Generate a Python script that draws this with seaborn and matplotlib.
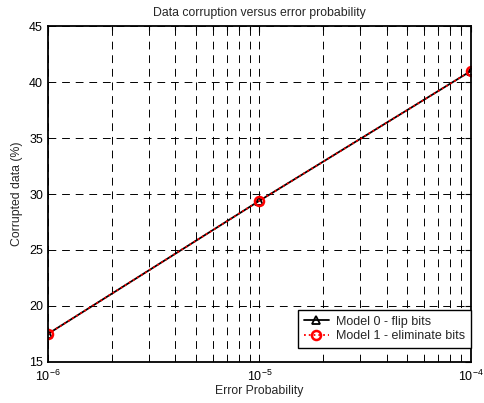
import numpy as np
import pandas as pd
import matplotlib
matplotlib.use("Agg")
import matplotlib.pyplot as plt
import seaborn as sns
from matplotlib.ticker import LogLocator, NullFormatter

error_prob = [1e-6, 1e-5, 1e-4]
model0 = [17.5, 29.4, 41.0]
model1 = [17.5, 29.4, 41.0]
labels = ["Model 0 - flip bits", "Model 1 - eliminate bits"]

sns.set_style("white")
plt.rcParams['font.family'] = ['Liberation Sans', 'DejaVu Sans']
plt.rcParams['font.size'] = 9
plt.rcParams['mathtext.fontset'] = 'custom'
plt.rcParams['mathtext.rm'] = 'Liberation Sans'
plt.rcParams['mathtext.it'] = 'Liberation Sans'
plt.rcParams['mathtext.bf'] = 'Liberation Sans'
plt.rcParams['mathtext.default'] = 'regular'

fig = plt.figure(figsize=(4.84, 4.03), dpi=100)
ax = fig.add_axes([0.099, 0.102, 0.874, 0.833])

df0 = pd.DataFrame({"x": error_prob, "y": model0})
df1 = pd.DataFrame({"x": error_prob, "y": model1})

sns.lineplot(data=df0, x="x", y="y", ax=ax, color="black", linewidth=1.3,
             marker="^", markersize=6, markerfacecolor="none",
             markeredgecolor="black", markeredgewidth=1.3, label=labels[0])
sns.lineplot(data=df1, x="x", y="y", ax=ax, color="red", linewidth=1.3,
             linestyle=":", marker="o", markersize=6.5, markerfacecolor="none",
             markeredgecolor="red", markeredgewidth=1.8, label=labels[1])

ax.set_xscale("log")
ax.set_xlim(1e-6, 1e-4)
ax.set_ylim(15, 45)
ax.set_yticks([15, 20, 25, 30, 35, 40, 45])
ax.xaxis.set_major_locator(LogLocator(base=10, numticks=10))
ax.xaxis.set_minor_locator(LogLocator(base=10, subs=np.arange(2, 10), numticks=20))
ax.xaxis.set_minor_formatter(NullFormatter())

ax.grid(True, which="both", axis="x", color="black", linestyle=(0, (8, 6)), linewidth=0.7)
ax.grid(True, which="major", axis="y", color="black", linestyle=(0, (8, 6)), linewidth=0.7)

ax.tick_params(which="both", direction="in", top=True, right=True, length=4, width=0.8,
               labelsize=9, colors="black")
ax.tick_params(which="minor", length=3)
ax.tick_params(axis="x", pad=5)
for s in ax.spines.values():
    s.set_color("black")
    s.set_linewidth(1.3)

ax.set_title("Data corruption versus error probability", fontsize=8.8, pad=7)
ax.set_xlabel("Error Probability", fontsize=8.8, labelpad=1)
ax.set_ylabel("Corrupted data (%)", fontsize=8.8, labelpad=4)

leg = ax.legend(loc="lower right", fontsize=9, frameon=True, fancybox=False,
                borderpad=0.45, handlelength=2.0, handletextpad=0.6, labelspacing=0.2,
                borderaxespad=0.0, bbox_to_anchor=(1.0, 0.042))
leg.get_frame().set_edgecolor("black")
leg.get_frame().set_linewidth(1.0)
leg.get_frame().set_alpha(1)

fig.savefig("out.png", dpi=100)
